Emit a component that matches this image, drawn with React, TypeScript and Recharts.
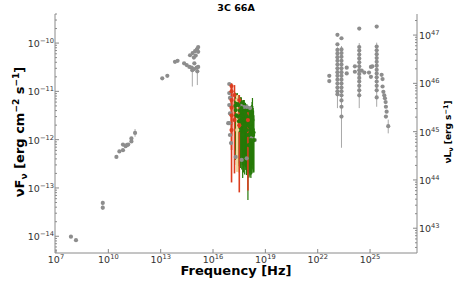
import React from "react";
import { ComposedChart, Scatter, XAxis, YAxis, ErrorBar } from "recharts";

// [frequency Hz, nuFnu erg cm^-2 s^-1, lower bound, upper bound]
type Pt = [number, number, number?, number?];

const radioPts: Pt[] = [
  [7.2e7, 9.8e-15],
  [1.4e8, 8.3e-15],
  [4.8e9, 4.9e-14, 4.4e-14, 5.4e-14],
  [4.8e9, 3.9e-14, 3.5e-14, 4.3e-14],
  [2.9e10, 4.4e-13],
  [4.3e10, 5.7e-13],
  [6.9e10, 6.05e-13],
  [6.9e10, 7.9e-13],
  [9.8e10, 7.3e-13],
  [1.17e11, 7.8e-13],
  [1.38e11, 7.9e-13],
  [2.1e11, 9.2e-13],
  [2.1e11, 1.06e-12],
  [3.4e11, 1.38e-12, 1.15e-12, 1.66e-12],
];

const irPts: Pt[] = [
  [1.23e13, 1.86e-11],
  [2.4e13, 2.1e-11],
  [6.6e13, 4.1e-11],
  [9.3e13, 4.3e-11],
  [2.2e14, 3.8e-11],
  [3.1e14, 3.5e-11],
  [4.4e14, 3.2e-11],
  [6.0e14, 3.1e-11],
  [8.1e14, 2.9e-11],
  [1.15e15, 3.1e-11],
  [1.41e15, 3.2e-11],
  [8.5e14, 3.8e-11],
  [1.26e15, 2.6e-11, 1.35e-11, 3.0e-11],
  [6.5e14, 2.75e-11, 1.26e-11, 3.1e-11],
  [4.8e14, 5.6e-11],
  [6.8e14, 6.2e-11],
  [8.0e14, 5.0e-11],
  [9.3e14, 6.8e-11],
  [1.02e15, 5.5e-11],
  [1.15e15, 7.2e-11],
  [1.26e15, 7.6e-11],
  [1.41e15, 6.6e-11],
  [1.41e15, 8.3e-11],
];

const xrayGreyPts: Pt[] = [
  [8.5e16, 1.42e-11],
  [8.5e16, 9.2e-12],
  [9.3e16, 7.3e-12],
  [8.5e16, 5.2e-12],
  [9.3e16, 3.5e-12],
  [7.4e16, 2.2e-12],
  [8.5e16, 2.2e-12],
  [9.3e16, 1.25e-12],
  [1.07e17, 8.5e-13],
  [2.0e17, 4.4e-13],
  [4.4e17, 3.8e-13],
  [8.5e17, 4.1e-13],
  [1.62e18, 1.08e-12],
  [2.5e18, 9.8e-13],
  [2.7e17, 5.2e-12],
  [4.0e17, 5.0e-12],
  [5.9e17, 4.75e-12],
  [8.7e17, 4.75e-12],
  [1.32e18, 4.5e-12],
];

const xrayGreenPts: Pt[] = [
  [1.9e17, 5.0e-12, 6.0e-13, 9.4e-12],
  [2.0e17, 4.1e-12, 3.8e-13, 9.2e-12],
  [2.1e17, 6.0e-12, 8.0e-13, 9.0e-12],
  [2.2e17, 3.2e-12, 3.0e-13, 8.4e-12],
  [2.35e17, 5.6e-12, 4.5e-13, 8.8e-12],
  [2.45e17, 6.6e-12, 9.8e-13, 9.2e-12],
  [2.7e17, 3.0e-12, 2.8e-13, 8.0e-12],
  [2.9e17, 5.2e-12, 6.1e-13, 8.4e-12],
  [3.05e17, 2.4e-12, 3.2e-13, 7.8e-12],
  [3.2e17, 1.58e-12, 2.1e-13, 6.6e-12],
  [3.45e17, 4.0e-12, 4.2e-13, 7.6e-12],
  [3.7e17, 2.55e-12, 2.6e-13, 7.6e-12],
  [3.95e17, 3.2e-12, 3.4e-13, 7.0e-12],
  [4.2e17, 4.5e-12, 6.1e-13, 7.6e-12],
  [4.4e17, 2.2e-12, 2.4e-13, 6.4e-12],
  [4.6e17, 3.7e-12, 3.8e-13, 6.6e-12],
  [4.8e17, 2.8e-12, 3.0e-13, 6.2e-12],
  [5.0e17, 1.25e-12, 1.6e-13, 5.7e-12],
  [5.25e17, 3.4e-12, 3.6e-13, 6.4e-12],
  [5.5e17, 2.0e-12, 2.1e-13, 6.6e-12],
  [5.9e17, 3.0e-12, 2.8e-13, 6.0e-12],
  [6.2e17, 3.7e-12, 3.8e-13, 6.6e-12],
  [6.5e17, 1.7e-12, 1.9e-13, 5.4e-12],
  [6.8e17, 2.8e-12, 3.0e-13, 5.7e-12],
  [7.2e17, 3.3e-12, 2.7e-13, 5.8e-12],
  [7.5e17, 2.0e-12, 2.35e-13, 5.2e-12],
  [7.9e17, 2.6e-12, 2.5e-13, 5.3e-12],
  [8.3e17, 1.58e-12, 1.85e-13, 5.2e-12],
  [8.7e17, 3.0e-12, 2.9e-13, 5.4e-12],
  [9.1e17, 2.8e-12, 3.0e-13, 5.0e-12],
  [9.6e17, 2.2e-12, 2.2e-13, 5.0e-12],
  [1.0e18, 1.25e-12, 5.6e-14, 5.0e-12],
  [1.06e18, 2.4e-12, 2.0e-13, 4.8e-12],
  [1.12e18, 7.7e-13, 1.6e-13, 4.1e-12],
  [1.18e18, 1.9e-12, 2.0e-13, 4.6e-12],
  [1.23e18, 2.0e-12, 2.35e-13, 4.5e-12],
  [1.3e18, 1.3e-12, 1.7e-13, 4.4e-12],
  [1.35e18, 1.58e-12, 1.85e-13, 4.5e-12],
  [1.42e18, 2.2e-12, 2.2e-13, 5.0e-12],
  [1.48e18, 9.8e-13, 1.6e-13, 4.1e-12],
  [1.57e18, 1.8e-12, 1.9e-13, 4.8e-12],
  [1.65e18, 2.8e-12, 2.6e-13, 5.2e-12],
  [1.73e18, 1.5e-12, 2.0e-13, 6.0e-12],
  [1.82e18, 2.55e-12, 3.0e-13, 7.3e-12],
  [1.9e18, 1.6e-12, 2.4e-13, 5.0e-12],
  [2.0e18, 1.25e-12, 2.1e-13, 4.5e-12],
  [2.1e18, 1.4e-12, 2.2e-13, 4.0e-12],
  [2.2e18, 9.8e-13, 2.1e-13, 3.2e-12],
];

const xrayTanPts: Pt[] = [
  [2.45e17, 6.6e-12, 2.0e-12, 8.4e-12],
  [2.45e17, 1.58e-12, 2.15e-13, 5.2e-12],
];

const xrayRedPts: Pt[] = [
  [1.15e17, 1.29e-11, 6.6e-12, 1.48e-11],
  [1.15e17, 1.0e-11, 5.0e-12, 1.3e-11],
  [1.15e17, 6.6e-12, 2.0e-12, 1.17e-11],
  [1.15e17, 4.6e-12, 1.2e-12, 8.0e-12],
  [1.15e17, 3.2e-12, 6.1e-13, 6.6e-12],
  [1.15e17, 1.58e-12, 1.3e-13, 3.7e-12],
  [1.7e17, 8.4e-12, 2.55e-12, 1.35e-11],
  [1.7e17, 2.55e-12, 2.0e-13, 6.6e-12],
  [3.2e17, 6.6e-12, 1.58e-12, 8.4e-12],
  [3.2e17, 2.0e-12, 8.1e-14, 5.2e-12],
  [1.0e18, 2.55e-12, 8.9e-14, 3.7e-12],
];

const gammaPts: Pt[] = [
  [4.6e22, 2.1e-11],
  [4.6e22, 1.63e-11],
  // Fermi bin column near 1e23
  [1.35e23, 1.48e-10],
  [1.35e23, 9.4e-11],
  [1.35e23, 7.2e-11, 6.2e-11, 8.2e-11],
  [1.35e23, 6.1e-11, 5.2e-11, 7.0e-11],
  [1.35e23, 5.1e-11, 4.4e-11, 5.9e-11],
  [1.35e23, 4.3e-11, 3.7e-11, 5.0e-11],
  [1.35e23, 3.6e-11, 3.1e-11, 4.2e-11],
  [1.35e23, 3.0e-11, 2.6e-11, 3.5e-11],
  [1.35e23, 2.5e-11, 2.15e-11, 2.9e-11],
  [1.35e23, 2.1e-11, 1.8e-11, 2.45e-11],
  [1.35e23, 1.75e-11, 1.5e-11, 2.05e-11],
  [1.35e23, 1.45e-11, 1.25e-11, 1.7e-11],
  [1.35e23, 1.2e-11, 1.0e-11, 1.4e-11],
  [1.35e23, 1.0e-11, 8.5e-12, 1.2e-11],
  [1.35e23, 8.7e-12, 4.5e-12, 1.0e-11],
  [2.3e23, 1.26e-10],
  [2.3e23, 7.4e-11, 6.3e-11, 8.7e-11],
  [2.3e23, 6.2e-11, 5.3e-11, 7.2e-11],
  [2.3e23, 5.2e-11, 4.4e-11, 6.0e-11],
  [2.3e23, 4.3e-11, 3.7e-11, 5.0e-11],
  [2.3e23, 3.6e-11, 3.1e-11, 4.2e-11],
  [2.3e23, 3.0e-11, 2.6e-11, 3.5e-11],
  [2.3e23, 2.5e-11, 2.15e-11, 2.9e-11],
  [2.3e23, 2.1e-11, 1.8e-11, 2.45e-11],
  [2.3e23, 1.75e-11, 1.5e-11, 2.05e-11],
  [2.3e23, 1.45e-11, 1.25e-11, 1.7e-11],
  [2.3e23, 1.2e-11, 1.0e-11, 1.4e-11],
  [2.3e23, 1.0e-11, 8.5e-12, 1.2e-11],
  [2.3e23, 8.3e-12, 7.0e-12, 9.8e-12],
  [2.3e23, 6.5e-12, 5.4e-12, 7.8e-12],
  [2.3e23, 4.8e-12, 3.8e-12, 6.0e-12],
  [2.3e23, 3.0e-12, 6.8e-13, 4.3e-12],
  [4.6e23, 3.1e-11],
  [4.6e23, 2.35e-11],
  [1.35e24, 3.3e-11],
  [1.35e24, 2.55e-11],
  // column near 3e24
  [2.4e24, 2.0e-10],
  [2.4e24, 8.3e-11, 7.1e-11, 1.0e-10],
  [2.4e24, 7.0e-11, 6.0e-11, 8.2e-11],
  [2.4e24, 5.8e-11, 5.0e-11, 6.8e-11],
  [2.4e24, 4.8e-11, 4.1e-11, 5.6e-11],
  [2.4e24, 4.0e-11, 3.4e-11, 4.7e-11],
  [2.4e24, 3.3e-11, 2.8e-11, 3.9e-11],
  [2.4e24, 2.75e-11, 2.35e-11, 3.2e-11],
  [2.4e24, 2.3e-11, 1.95e-11, 2.7e-11],
  [2.4e24, 1.9e-11, 1.6e-11, 2.25e-11],
  [2.4e24, 1.6e-11, 1.35e-11, 1.9e-11],
  [2.4e24, 1.3e-11, 1.1e-11, 1.55e-11],
  [2.4e24, 1.05e-11, 8.9e-12, 1.25e-11],
  [2.4e24, 8.3e-12, 4.5e-12, 9.8e-12],
  [3.3e24, 2.7e-11],
  [4.7e24, 2.45e-11],
  [8.7e24, 2.45e-11],
  [1.12e25, 3.2e-11],
  [1.35e25, 3.3e-11],
  [1.12e25, 2.0e-11],
  // column near 3e25
  [2.4e25, 2.2e-10],
  [2.4e25, 8.5e-11, 7.2e-11, 1.02e-10],
  [2.4e25, 7.1e-11, 6.1e-11, 8.3e-11],
  [2.4e25, 5.9e-11, 5.0e-11, 6.9e-11],
  [2.4e25, 4.9e-11, 4.2e-11, 5.7e-11],
  [2.4e25, 4.1e-11, 3.5e-11, 4.8e-11],
  [2.4e25, 3.4e-11, 2.9e-11, 4.0e-11],
  [2.4e25, 2.8e-11, 2.4e-11, 3.3e-11],
  [2.4e25, 2.35e-11, 2.0e-11, 2.75e-11],
  [2.4e25, 1.95e-11, 1.65e-11, 2.3e-11],
  [2.4e25, 1.6e-11, 1.35e-11, 1.9e-11],
  [2.4e25, 1.3e-11, 1.1e-11, 1.55e-11],
  [2.4e25, 1.05e-11, 8.9e-12, 1.25e-11],
  [2.4e25, 7.5e-12, 4.8e-12, 9.0e-12],
  // falling high-energy tail
  [4.6e25, 2.2e-11],
  [5.2e25, 1.8e-11],
  [5.2e25, 1.26e-11],
  [5.8e25, 9.8e-12],
  [6.5e25, 8.3e-12],
  [7.1e25, 7.2e-12],
  [7.8e25, 6.0e-12],
  [8.1e25, 4.8e-12],
  [8.9e25, 3.8e-12],
  [8.1e25, 3.0e-12],
  [1.1e26, 1.9e-12, 1.35e-12, 2.6e-12],
];

const xTicks = [1e7, 1e10, 1e13, 1e16, 1e19, 1e22, 1e25];
const xDomain = [8.77e6, 4.9e27];
const fluxDomain = [4.5e-15, 4.0e-10];
const lumDomain = [3.07e42, 2.73e47];

const GREY = "#8d8d8d";
const GREY_BAR = "#a8a8a8";
const RED = "#dc3d1f";
const GREEN = "#267a08";
const TAN = "#f2d89c";
const SPINE = "#8a8a8a";
const TICK_TXT = "#333";
const FONT = "'DejaVu Sans', sans-serif";

// major decades plus 2..9 minor ticks inside a log domain
const logTicks = ([lo, hi]: number[]) => {
  const out: number[] = [];
  for (let e = Math.floor(Math.log10(lo)); e <= Math.ceil(Math.log10(hi)); e++) {
    for (let k = 1; k < 10; k++) {
      const v = k * Math.pow(10, e);
      if (v >= lo && v <= hi) out.push(v);
    }
  }
  return out;
};

const isMajor = (v: number) => Math.abs(Math.log10(v) - Math.round(Math.log10(v))) < 1e-6;
const expOf = (v: number) => {
  const e = Math.round(Math.log10(v));
  return e < 0 ? "\u2212" + -e : String(e);
};

const rows = (pts: Pt[]) =>
  pts.map(([nu, f, lo, hi]) => ({
    nu,
    f,
    err: [lo == null ? 0 : f - lo, hi == null ? 0 : hi - f],
  }));

const dot = (color: string) => (p: any) => <circle cx={p.cx} cy={p.cy} r={2.1} fill={color} />;

const Pow = ({ v, x, y, anchor }: { v: number; x: number; y: number; anchor: string }) => (
  <text x={x} y={y} textAnchor={anchor} fontSize={9.5} fill={TICK_TXT} fontFamily={FONT}>
    10
    <tspan dy={-4} fontSize={6.7}>
      {expOf(v)}
    </tspan>
  </text>
);

const BottomTick = (p: any) => (
  <g>
    <line x1={p.x} x2={p.x} y1={p.y} y2={p.y - 4} stroke={SPINE} />
    <Pow v={p.payload.value} x={p.x} y={p.y + 9.5} anchor="middle" />
  </g>
);

const TopTick = (p: any) => <line x1={p.x} x2={p.x} y1={p.y} y2={p.y + 4} stroke={SPINE} />;

const LeftTick = (p: any) => {
  const major = isMajor(p.payload.value);
  return (
    <g>
      <line x1={p.x} x2={p.x + (major ? 4 : 2)} y1={p.y} y2={p.y} stroke={SPINE} />
      {major && <Pow v={p.payload.value} x={p.x - 1} y={p.y + 4} anchor="end" />}
    </g>
  );
};

const RightTick = (p: any) => {
  const major = isMajor(p.payload.value);
  return (
    <g>
      <line x1={p.x} x2={p.x - (major ? 4 : 2)} y1={p.y} y2={p.y} stroke={SPINE} />
      {major && <Pow v={p.payload.value} x={p.x + 2} y={p.y + 4} anchor="start" />}
    </g>
  );
};

const series = [
  { name: "radio", pts: radioPts, color: GREY, bar: GREY_BAR, w: 1 },
  { name: "ir", pts: irPts, color: GREY, bar: GREY_BAR, w: 1 },
  { name: "gamma", pts: gammaPts, color: GREY, bar: GREY_BAR, w: 1 },
  { name: "xgrey", pts: xrayGreyPts, color: GREY, bar: GREY_BAR, w: 1 },
  { name: "xgreen", pts: xrayGreenPts, color: GREEN, bar: GREEN, w: 1.2 },
  { name: "xtan", pts: xrayTanPts, color: TAN, bar: TAN, w: 2.5 },
  { name: "xred", pts: xrayRedPts, color: RED, bar: RED, w: 1.6 },
];

export default function App() {
  const axisLine = { stroke: SPINE, strokeWidth: 1 };
  return (
    <div style={{ position: "absolute", left: 0, top: 0, width: 464, height: 283, background: "#fff" }}>
      <ComposedChart width={464} height={283} margin={{ top: 14, right: 0, bottom: 0, left: 0 }}>
        <XAxis
          xAxisId="b"
          type="number"
          dataKey="nu"
          scale="log"
          domain={xDomain}
          ticks={xTicks}
          allowDataOverflow
          interval={0}
          height={30}
          tickSize={0}
          tickMargin={0}
          tickLine={false}
          axisLine={axisLine}
          tick={BottomTick}
        />
        <XAxis
          xAxisId="t"
          orientation="top"
          type="number"
          dataKey="nu"
          scale="log"
          domain={xDomain}
          ticks={xTicks}
          allowDataOverflow
          interval={0}
          height={0}
          tickSize={0}
          tickMargin={0}
          tickLine={false}
          axisLine={axisLine}
          tick={TopTick}
        />
        <YAxis
          yAxisId="l"
          type="number"
          scale="log"
          domain={fluxDomain}
          ticks={logTicks(fluxDomain)}
          allowDataOverflow
          interval={0}
          width={55}
          tickSize={0}
          tickMargin={0}
          tickLine={false}
          axisLine={axisLine}
          tick={LeftTick}
        />
        <YAxis
          yAxisId="r"
          orientation="right"
          type="number"
          scale="log"
          domain={lumDomain}
          ticks={logTicks(lumDomain)}
          allowDataOverflow
          interval={0}
          width={47}
          tickSize={0}
          tickMargin={0}
          tickLine={false}
          axisLine={axisLine}
          tick={RightTick}
        />
        {series.map((s) => (
          <Scatter
            key={s.name}
            xAxisId="b"
            yAxisId="l"
            data={rows(s.pts)}
            dataKey="f"
            shape={dot(s.color)}
            isAnimationActive={false}
          >
            <ErrorBar dataKey="err" direction="y" width={0} stroke={s.bar} strokeWidth={s.w} />
          </Scatter>
        ))}
      </ComposedChart>
      <svg
        width={464}
        height={283}
        style={{ position: "absolute", left: 0, top: 0, pointerEvents: "none" }}
        fontFamily={FONT}
      >
        <text x={236} y={10.5} textAnchor="middle" fontSize={9.5} fontWeight="bold">
          3C 66A
        </text>
        <text x={236} y={275} textAnchor="middle" fontSize={13} fontWeight="bold">
          Frequency [Hz]
        </text>
        <text transform="translate(24,132) rotate(-90)" textAnchor="middle" fontSize={13} fontWeight="bold">
          νF
          <tspan dy={3} fontSize={9}>ν</tspan>
          <tspan dy={-3}> [erg cm</tspan>
          <tspan dy={-5} fontSize={9}>−2</tspan>
          <tspan dy={5}> s</tspan>
          <tspan dy={-5} fontSize={9}>−1</tspan>
          <tspan dy={5}>]</tspan>
        </text>
        <text transform="translate(451,132) rotate(-90)" textAnchor="middle" fontSize={9} fontWeight="bold">
          νL
          <tspan dy={2} fontSize={6.5}>ν</tspan>
          <tspan dy={-2}> [erg s</tspan>
          <tspan dy={-3.5} fontSize={6.5}>−1</tspan>
          <tspan dy={3.5}>]</tspan>
        </text>
      </svg>
    </div>
  );
}
